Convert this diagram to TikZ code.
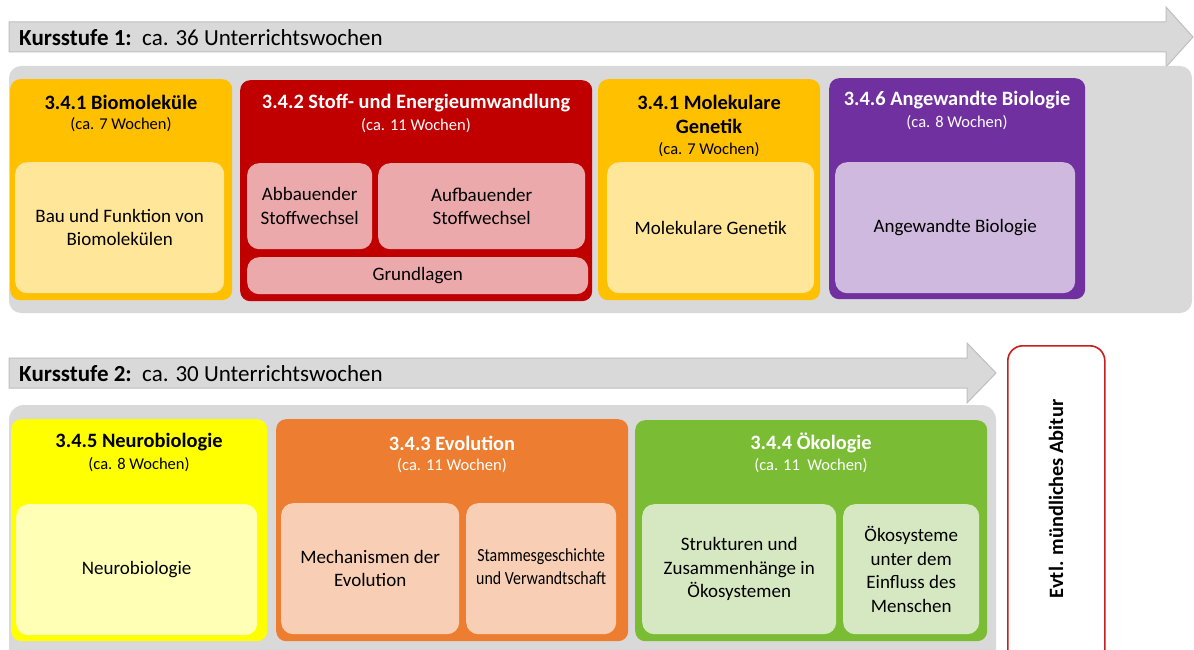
\documentclass[tikz,border=0pt]{standalone}
\usepackage{fontspec}
\setmainfont{Carlito}
\usepackage{graphicx}
\definecolor{panelgray}{HTML}{D9D9D9}
\definecolor{arrowline}{HTML}{BFBFBF}
\definecolor{korange}{HTML}{FFC000}
\definecolor{korangein}{HTML}{FFE699}
\definecolor{kred}{HTML}{C00000}
\definecolor{kredin}{HTML}{EBA9AC}
\definecolor{kpurple}{HTML}{7030A0}
\definecolor{kpurplein}{HTML}{CFB9DF}
\definecolor{kyellow}{HTML}{FFFF00}
\definecolor{kyellowin}{HTML}{FFFFB5}
\definecolor{kor2}{HTML}{ED7D31}
\definecolor{kor2in}{HTML}{F8CFB4}
\definecolor{kgreen}{HTML}{7ABD34}
\definecolor{kgreenin}{HTML}{D6E8C1}
\definecolor{abired}{HTML}{C81E1E}
\tikzset{
  outerbox/.style={rounded corners=10pt, anchor=north west, inner sep=0pt, draw=none},
  innerbox/.style={rounded corners=12pt, anchor=north west, inner sep=0pt, draw=none, align=center,
    font=\fontsize{19}{23.5}\selectfont},
  titletxt/.style={font=\fontsize{20.4}{24}\selectfont\bfseries, align=center, inner sep=0pt},
  subtxt/.style={font=\fontsize{16.5}{20}\selectfont, inner sep=0pt},
  headtxt/.style={font=\fontsize{23}{27}\selectfont, anchor=west, inner sep=0pt},
  arrowshape/.style={fill=panelgray, draw=arrowline, line width=1pt},
}
\begin{document}
\begin{tikzpicture}[x=1pt,y=-1pt]
\clip (0,0) rectangle (1194,650);
\useasboundingbox (0,0) rectangle (1194,650);

% ---------- Kursstufe 1 ----------
\draw[arrowshape] (9,22) -- (1166,22) -- (1166,7) -- (1193,37) -- (1166,67) -- (1166,52) -- (9,52) -- cycle;
\node[headtxt] (k1) at (19,37.5) {\textbf{Kursstufe 1:}\ \ ca. 36 Unterrichtswochen};
\fill[panelgray, rounded corners=12pt] (9,66) rectangle (1192,313);

% A
\node[outerbox, fill=korange, minimum width=222pt, minimum height=221pt] (A) at (10,79) {};
\node[titletxt] (At) at (121,102) {3.4.1 Biomoleküle};
\node[subtxt] (As) at (121,124.5) {(ca. 7 Wochen)};
\node[innerbox, fill=korangein, minimum width=209pt, minimum height=131pt] (A1) at (15,162) {Bau und Funktion von\\Biomolekülen};

% B
\node[outerbox, fill=kred, minimum width=352pt, minimum height=221pt] (B) at (240,80) {};
\node[titletxt, text=white] (Bt) at (416,103) {3.4.2 Stoff- und Energieumwandlung};
\node[subtxt, text=white] (Bs) at (416,125.5) {(ca. 11 Wochen)};
\node[innerbox, fill=kredin, minimum width=125pt, minimum height=86pt] (B1) at (247,163) {Abbauender\\Stoffwechsel};
\node[innerbox, fill=kredin, minimum width=207pt, minimum height=86pt] (B2) at (378,163) {Aufbauender\\Stoffwechsel};
\node[innerbox, fill=kredin, minimum width=341pt, minimum height=37pt] (B3) at (247,257) {Grundlagen};

% C
\node[outerbox, fill=korange, minimum width=222pt, minimum height=221pt] (C) at (598,79) {};
\node[titletxt] (Ct) at (709,114) {3.4.1 Molekulare\\Genetik};
\node[subtxt] (Cs) at (709,149.5) {(ca. 7 Wochen)};
\node[innerbox, fill=korangein, minimum width=207pt, minimum height=131pt] (C1) at (607,162) {Molekulare Genetik};

% D
\node[outerbox, fill=kpurple, minimum width=256pt, minimum height=221pt] (D) at (829,78) {};
\node[titletxt, text=white] (Dt) at (957,100.5) {3.4.6 Angewandte Biologie};
\node[subtxt, text=white] (Ds) at (957,123) {(ca. 8 Wochen)};
\node[innerbox, fill=kpurplein, minimum width=240pt, minimum height=131pt] (D1) at (835,162) {Angewandte Biologie};

% ---------- Kursstufe 2 ----------
\draw[arrowshape] (9,358) -- (967,358) -- (967,343) -- (996,373) -- (967,403) -- (967,388) -- (9,388) -- cycle;
\node[headtxt] (k2) at (19,374) {\textbf{Kursstufe 2:}\ \ ca. 30 Unterrichtswochen};
\fill[panelgray, rounded corners=15pt] (9,405) rectangle (996,680);

% E
\node[outerbox, fill=kyellow, minimum width=256pt, minimum height=222pt] (E) at (11,419) {};
\node[titletxt] (Et) at (139,442) {3.4.5 Neurobiologie};
\node[subtxt] (Es) at (139,464.5) {(ca. 8 Wochen)};
\node[innerbox, fill=kyellowin, minimum width=241pt, minimum height=131pt] (E1) at (16,504) {Neurobiologie};

% F
\node[outerbox, fill=kor2, minimum width=352pt, minimum height=222pt] (F) at (276,419) {};
\node[titletxt, text=white] (Ft) at (452,443) {3.4.3 Evolution};
\node[subtxt, text=white] (Fs) at (452,465.5) {(ca. 11 Wochen)};
\node[innerbox, fill=kor2in, minimum width=178pt, minimum height=131pt] (F1) at (281,503) {Mechanismen der\\Evolution};
\node[innerbox, fill=kor2in, minimum width=150pt, minimum height=131pt] (F2) at (466,503) {\scalebox{0.86}[1]{\fontsize{18.5}{23}\selectfont\begin{tabular}{@{}c@{}}Stammesgeschichte\\[0pt]und Verwandtschaft\end{tabular}}};

% G
\node[outerbox, fill=kgreen, minimum width=352pt, minimum height=221pt] (G) at (635,420) {};
\node[titletxt, text=white] (Gt) at (811,443) {3.4.4 Ökologie};
\node[subtxt, text=white] (Gs) at (811,465.5) {(ca. 11\ \ Wochen)};
\node[innerbox, fill=kgreenin, minimum width=194pt, minimum height=130pt] (G1) at (642,504) {Strukturen und\\Zusammenhänge in\\Ökosystemen};
\node[innerbox, fill=kgreenin, minimum width=136pt, minimum height=130pt] (G2) at (843,504) {Ökosysteme\\unter dem\\Einfluss des\\Menschen};

% H
\node[outerbox, draw=abired, line width=1.6pt, fill=white, rounded corners=15pt, minimum width=97pt, minimum height=330pt] (H) at (1007,345) {};
\node[titletxt, rotate=90] (Ht) at (1056,499) {Evtl. mündliches Abitur};
\end{tikzpicture}
\end{document}
